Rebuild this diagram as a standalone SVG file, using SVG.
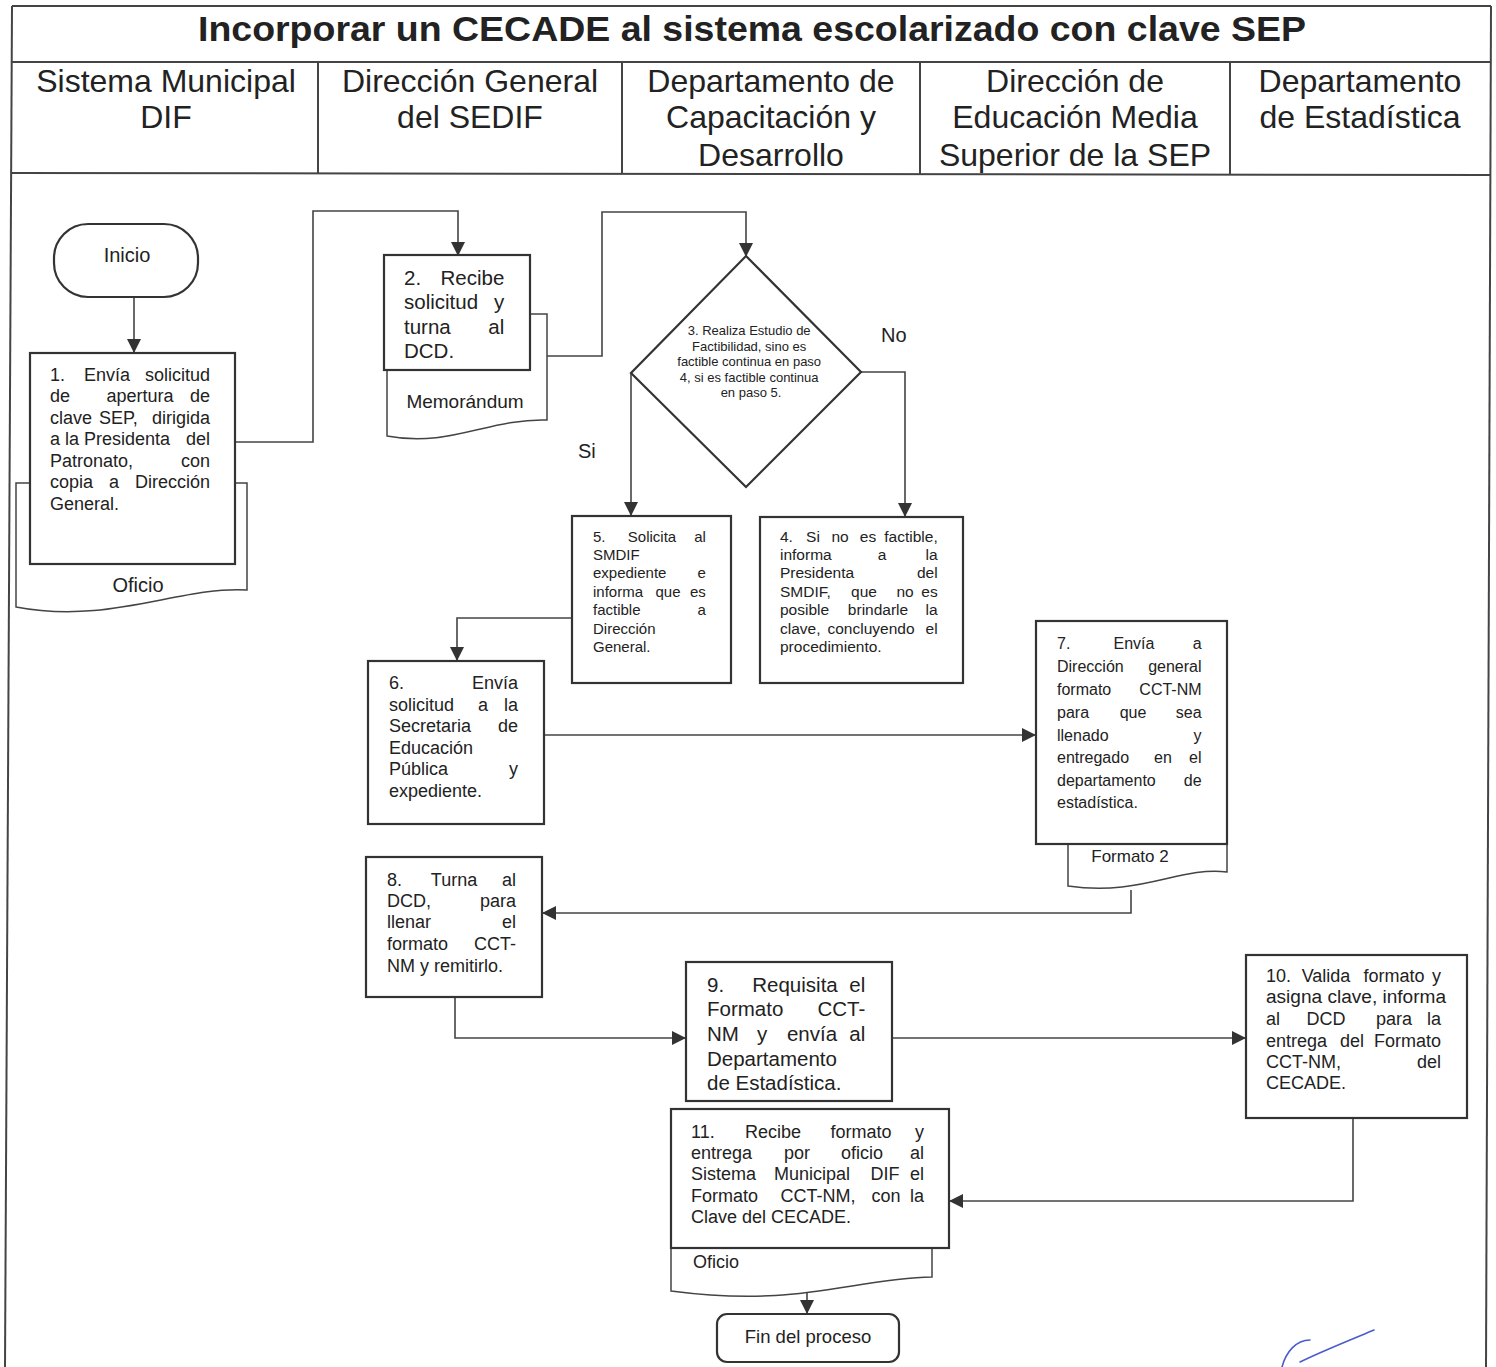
<svg xmlns="http://www.w3.org/2000/svg" width="1496" height="1367" viewBox="0 0 1496 1367">
<style>
.t{font-family:"Liberation Sans",Arial,sans-serif;fill:#222}
.m{text-anchor:middle}
.e{text-anchor:end}
.hd{font-size:32px;text-anchor:middle}
.frame{fill:none;stroke:#444;stroke-width:2}
.box{fill:#fff;stroke:#333;stroke-width:2.2}
.doc{fill:#fff;stroke:#444;stroke-width:1.5}
.conn{fill:none;stroke:#444;stroke-width:1.6;marker-end:url(#arr)}
</style>
<defs>
<marker id="arr" markerUnits="userSpaceOnUse" markerWidth="14" markerHeight="14" refX="13" refY="7" orient="auto">
<path d="M0,0 L14,7 L0,14 Z" fill="#333"/>
</marker>
</defs>
<rect width="1496" height="1367" fill="#fff"/>
<g id="frame">
<line class="frame" x1="12" y1="6" x2="1491" y2="6"/>
<line class="frame" x1="12" y1="6" x2="5" y2="1367"/>
<line class="frame" x1="1491" y1="6" x2="1486" y2="1367"/>
<line class="frame" x1="12" y1="62" x2="1491" y2="62"/>
<line class="frame" x1="11" y1="173" x2="1491" y2="175"/>
<line class="frame" x1="318" y1="62" x2="318" y2="173"/>
<line class="frame" x1="622" y1="62" x2="622" y2="174"/>
<line class="frame" x1="920" y1="62" x2="920" y2="174"/>
<line class="frame" x1="1230" y1="62" x2="1230" y2="175"/>
<text class="t" x="752" y="41" text-anchor="middle" font-size="35" font-weight="bold" textLength="1108" lengthAdjust="spacingAndGlyphs">Incorporar un CECADE al sistema escolarizado con clave SEP</text>
<text class="t hd" x="166" y="92">Sistema Municipal</text>
<text class="t hd" x="166" y="128">DIF</text>
<text class="t hd" x="470" y="92">Dirección General</text>
<text class="t hd" x="470" y="128">del SEDIF</text>
<text class="t hd" x="771" y="92">Departamento de</text>
<text class="t hd" x="771" y="128">Capacitación y</text>
<text class="t hd" x="771" y="166">Desarrollo</text>
<text class="t hd" x="1075" y="92">Dirección de</text>
<text class="t hd" x="1075" y="128">Educación Media</text>
<text class="t hd" x="1075" y="166">Superior de la SEP</text>
<text class="t hd" x="1360" y="92">Departamento</text>
<text class="t hd" x="1360" y="128">de Estadística</text>
</g>
<g id="connectors">
<path class="conn" d="M134,297 L134,352"/>
<path class="conn" d="M235,442 L313,442 L313,211 L458,211 L458,255"/>
<path class="conn" d="M530,356 L602,356 L602,212 L746,212 L746,256"/>
<path class="conn" d="M631,373 L631,515"/>
<path class="conn" d="M861,372 L905,372 L905,516"/>
<path class="conn" d="M572,618 L457,618 L457,660"/>
<path class="conn" d="M544,735 L1035,735"/>
<path class="conn" d="M1131,890 L1131,913 L543,913"/>
<path class="conn" d="M455,997 L455,1038 L685,1038"/>
<path class="conn" d="M892,1038 L1245,1038"/>
<path class="conn" d="M1353,1118 L1353,1201 L950,1201"/>
<path class="conn" d="M807,1285 L807,1313"/>
<text class="t" x="881" y="342" font-size="20">No</text>
<text class="t" x="578" y="458" font-size="20">Si</text>
</g>
<g id="inicio">
<rect class="box" x="54" y="224" width="144" height="73" rx="34" stroke-width="1.5"/>
<text class="t m" x="127" y="262" font-size="20">Inicio</text>
</g>
<g id="n1">
<path class="doc" d="M16,483 L247,483 L247,590 C180,586 110,625 16,607 Z"/>
<rect class="box" x="30" y="353" width="205" height="211"/>
<text class="t" x="138" y="592" font-size="20" text-anchor="middle">Oficio</text>
<text class="t" font-size="18">
<tspan x="50" y="381">1.</tspan><tspan x="107" y="381" class="m">Envía</tspan><tspan x="215" y="381" class="e">solicitud</tspan>
<tspan x="50" y="402">de</tspan><tspan x="140" y="402" class="m">apertura</tspan><tspan x="215" y="402" class="e">de</tspan>
<tspan x="50" y="424">clave</tspan><tspan x="99" y="424">SEP,</tspan><tspan x="215" y="424" class="e">dirigida</tspan>
<tspan x="50" y="445">a</tspan><tspan x="65" y="445">la</tspan><tspan x="84" y="445">Presidenta</tspan><tspan x="215" y="445" class="e">del</tspan>
<tspan x="50" y="467">Patronato,</tspan><tspan x="215" y="467" class="e">con</tspan>
<tspan x="50" y="488">copia</tspan><tspan x="114" y="488" class="m">a</tspan><tspan x="215" y="488" class="e">Dirección</tspan>
<tspan x="50" y="510">General.</tspan>
</text>
</g>
<g id="n2">
<path class="doc" d="M387,314 L547,314 L547,420 C490,418 450,448 387,436 Z"/>
<rect class="box" x="384" y="255" width="146" height="115"/>
<text class="t m" x="465" y="408" font-size="19">Memorándum</text>
<text class="t" font-size="20.5">
<tspan x="404" y="285">2.</tspan><tspan x="510" y="285" class="e">Recibe</tspan>
<tspan x="404" y="309">solicitud</tspan><tspan x="510" y="309" class="e">y</tspan>
<tspan x="404" y="334">turna</tspan><tspan x="510" y="334" class="e">al</tspan>
<tspan x="404" y="358">DCD.</tspan>
</text>
</g>
<g id="n3">
<path class="box" stroke-width="1.6" d="M746,256 L861,372 L746,487 L631,373 Z"/>
<text class="t m" font-size="13">
<tspan x="751" y="335">3. Realiza Estudio de</tspan>
<tspan x="751" y="351">Factibilidad, sino es</tspan>
<tspan x="751" y="366">factible continua en paso</tspan>
<tspan x="751" y="382">4, si es factible continua</tspan>
<tspan x="751" y="397">en paso 5.</tspan>
</text>
</g>
<g id="n5">
<rect class="box" x="572" y="516" width="159" height="167"/>
<text class="t" font-size="15">
<tspan x="593" y="542">5.</tspan><tspan x="652" y="542" class="m">Solicita</tspan><tspan x="710" y="542" class="e">al</tspan>
<tspan x="593" y="560">SMDIF</tspan>
<tspan x="593" y="578">expediente</tspan><tspan x="710" y="578" class="e">e</tspan>
<tspan x="593" y="597">informa</tspan><tspan x="668" y="597" class="m">que</tspan><tspan x="710" y="597" class="e">es</tspan>
<tspan x="593" y="615">factible</tspan><tspan x="710" y="615" class="e">a</tspan>
<tspan x="593" y="634">Dirección</tspan>
<tspan x="593" y="652">General.</tspan>
</text>
</g>
<g id="n4">
<rect class="box" x="760" y="517" width="203" height="166"/>
<text class="t" font-size="15.5">
<tspan x="780" y="542">4.</tspan><tspan x="813" y="542" class="m">Si</tspan><tspan x="840" y="542" class="m">no</tspan><tspan x="868" y="542" class="m">es</tspan><tspan x="942" y="542" class="e">factible,</tspan>
<tspan x="780" y="560">informa</tspan><tspan x="882" y="560" class="m">a</tspan><tspan x="942" y="560" class="e">la</tspan>
<tspan x="780" y="578">Presidenta</tspan><tspan x="942" y="578" class="e">del</tspan>
<tspan x="780" y="597">SMDIF,</tspan><tspan x="864" y="597" class="m">que</tspan><tspan x="905" y="597" class="m">no</tspan><tspan x="942" y="597" class="e">es</tspan>
<tspan x="780" y="615">posible</tspan><tspan x="878" y="615" class="m">brindarle</tspan><tspan x="942" y="615" class="e">la</tspan>
<tspan x="780" y="634">clave,</tspan><tspan x="871" y="634" class="m">concluyendo</tspan><tspan x="942" y="634" class="e">el</tspan>
<tspan x="780" y="652">procedimiento.</tspan>
</text>
</g>
<g id="n6">
<rect class="box" x="368" y="661" width="176" height="163"/>
<text class="t" font-size="18">
<tspan x="389" y="689">6.</tspan><tspan x="523" y="689" class="e">Envía</tspan>
<tspan x="389" y="711">solicitud</tspan><tspan x="483" y="711" class="m">a</tspan><tspan x="523" y="711" class="e">la</tspan>
<tspan x="389" y="732">Secretaria</tspan><tspan x="523" y="732" class="e">de</tspan>
<tspan x="389" y="754">Educación</tspan>
<tspan x="389" y="775">Pública</tspan><tspan x="523" y="775" class="e">y</tspan>
<tspan x="389" y="797">expediente.</tspan>
</text>
</g>
<g id="n7">
<path class="doc" d="M1068,700 L1227,700 L1227,872 C1180,866 1140,897 1068,886 Z"/>
<rect class="box" x="1036" y="621" width="191" height="223"/>
<text class="t m" x="1130" y="862" font-size="17">Formato 2</text>
<text class="t" font-size="16">
<tspan x="1057" y="649">7.</tspan><tspan x="1134" y="649" class="m">Envía</tspan><tspan x="1206" y="649" class="e">a</tspan>
<tspan x="1057" y="672">Dirección</tspan><tspan x="1206" y="672" class="e">general</tspan>
<tspan x="1057" y="695">formato</tspan><tspan x="1206" y="695" class="e">CCT-NM</tspan>
<tspan x="1057" y="718">para</tspan><tspan x="1133" y="718" class="m">que</tspan><tspan x="1206" y="718" class="e">sea</tspan>
<tspan x="1057" y="741">llenado</tspan><tspan x="1206" y="741" class="e">y</tspan>
<tspan x="1057" y="763">entregado</tspan><tspan x="1163" y="763" class="m">en</tspan><tspan x="1206" y="763" class="e">el</tspan>
<tspan x="1057" y="786">departamento</tspan><tspan x="1206" y="786" class="e">de</tspan>
<tspan x="1057" y="808">estadística.</tspan>
</text>
</g>
<g id="n8">
<rect class="box" x="366" y="857" width="176" height="140"/>
<text class="t" font-size="18">
<tspan x="387" y="886">8.</tspan><tspan x="454" y="886" class="m">Turna</tspan><tspan x="521" y="886" class="e">al</tspan>
<tspan x="387" y="907">DCD,</tspan><tspan x="521" y="907" class="e">para</tspan>
<tspan x="387" y="928">llenar</tspan><tspan x="521" y="928" class="e">el</tspan>
<tspan x="387" y="950">formato</tspan><tspan x="521" y="950" class="e">CCT-</tspan>
<tspan x="387" y="972">NM y remitirlo.</tspan>
</text>
</g>
<g id="n9">
<rect class="box" x="686" y="962" width="206" height="139"/>
<text class="t" font-size="20.5">
<tspan x="707" y="992">9.</tspan><tspan x="795" y="992" class="m">Requisita</tspan><tspan x="871" y="992" class="e">el</tspan>
<tspan x="707" y="1016">Formato</tspan><tspan x="871" y="1016" class="e">CCT-</tspan>
<tspan x="707" y="1041">NM</tspan><tspan x="762" y="1041" class="m">y</tspan><tspan x="812" y="1041" class="m">envía</tspan><tspan x="871" y="1041" class="e">al</tspan>
<tspan x="707" y="1066">Departamento</tspan>
<tspan x="707" y="1090">de Estadística.</tspan>
</text>
</g>
<g id="n10">
<rect class="box" x="1246" y="955" width="221" height="163"/>
<text class="t" font-size="18">
<tspan x="1266" y="982">10.</tspan><tspan x="1326" y="982" class="m">Valida</tspan><tspan x="1394" y="982" class="m">formato</tspan><tspan x="1446" y="982" class="e">y</tspan>
<tspan x="1266" y="1003" textLength="180" lengthAdjust="spacingAndGlyphs">asigna clave, informa</tspan>
<tspan x="1266" y="1025">al</tspan><tspan x="1326" y="1025" class="m">DCD</tspan><tspan x="1394" y="1025" class="m">para</tspan><tspan x="1446" y="1025" class="e">la</tspan>
<tspan x="1266" y="1047">entrega</tspan><tspan x="1352" y="1047" class="m">del</tspan><tspan x="1446" y="1047" class="e">Formato</tspan>
<tspan x="1266" y="1068">CCT-NM,</tspan><tspan x="1446" y="1068" class="e">del</tspan>
<tspan x="1266" y="1089">CECADE.</tspan>
</text>
</g>
<g id="n11">
<path class="doc" d="M671,1200 L932,1200 L932,1277 C850,1279 800,1308 671,1291 Z"/>
<rect class="box" x="671" y="1109" width="278" height="139"/>
<text class="t" x="693" y="1268" font-size="18">Oficio</text>
<text class="t" font-size="18">
<tspan x="691" y="1138">11.</tspan><tspan x="773" y="1138" class="m">Recibe</tspan><tspan x="861" y="1138" class="m">formato</tspan><tspan x="929" y="1138" class="e">y</tspan>
<tspan x="691" y="1159">entrega</tspan><tspan x="797" y="1159" class="m">por</tspan><tspan x="862" y="1159" class="m">oficio</tspan><tspan x="929" y="1159" class="e">al</tspan>
<tspan x="691" y="1180">Sistema</tspan><tspan x="812" y="1180" class="m">Municipal</tspan><tspan x="885" y="1180" class="m">DIF</tspan><tspan x="929" y="1180" class="e">el</tspan>
<tspan x="691" y="1202">Formato</tspan><tspan x="818" y="1202" class="m">CCT-NM,</tspan><tspan x="886" y="1202" class="m">con</tspan><tspan x="929" y="1202" class="e">la</tspan>
<tspan x="691" y="1223">Clave del CECADE.</tspan>
</text>
</g>
<g id="fin">
<rect class="box" x="717" y="1314" width="182" height="48" rx="10" stroke-width="1.6"/>
<text class="t m" x="808" y="1343" font-size="18.5">Fin del proceso</text>
</g>
<g id="firma" fill="none" stroke="#4a5ccc" stroke-width="1.6" stroke-linecap="round">
<path d="M1310,1340 C1296,1340 1286,1352 1282,1367"/>
<path d="M1300,1362 C1320,1352 1350,1340 1374,1330"/>
</g>
</svg>
